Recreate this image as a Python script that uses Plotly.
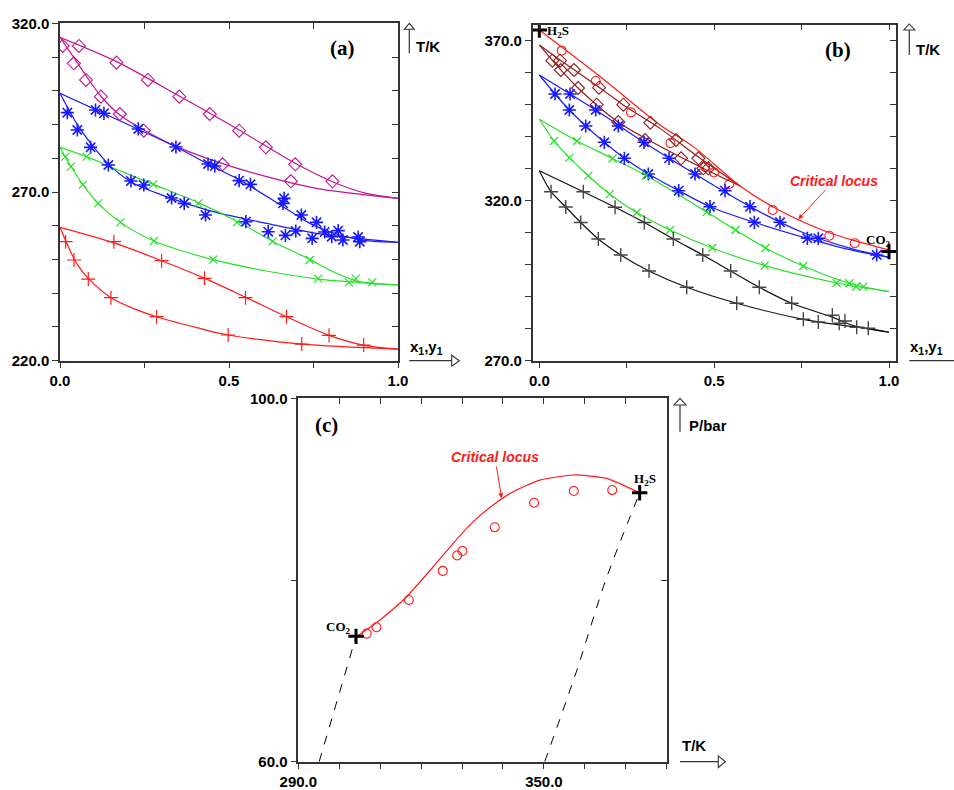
import plotly.graph_objects as go

W, H = 954, 790

# ---------------- Panel (a): T/K vs x1,y1 ----------------
a_mag_up_x = [0.0, 0.1675, 0.3527, 0.530, 0.6956, 0.806, 0.906, 1.0]
a_mag_up_T = [315.85, 308.64, 298.46, 288.38, 278.5, 273.06, 269.6, 268.12]
a_mag_lo_x = [0.0, 0.039, 0.079, 0.118, 0.177, 0.248, 0.345, 0.463, 0.611, 0.759, 1.0]
a_mag_lo_T = [315.85, 310.1, 304.2, 298.75, 292.8, 288.38, 283.44, 279.0, 274.55, 271.09, 268.12]
a_mag_pu_x = [0.056, 0.167, 0.260, 0.353, 0.443, 0.530, 0.609, 0.696, 0.806]
a_mag_pu_T = [313.28, 308.34, 303.2, 298.26, 293.12, 288.18, 283.24, 278.2, 273.16]
a_mag_pl_x = [0.008, 0.041, 0.077, 0.121, 0.177, 0.248, 0.481, 0.683]
a_mag_pl_T = [313.28, 308.14, 303.2, 298.26, 293.12, 288.18, 278.2, 273.16]

a_blu_up_x = [0.0, 0.108, 0.236, 0.345, 0.443, 0.532, 0.660, 0.739, 0.828, 0.906, 1.0]
a_blu_up_T = [299.25, 294.31, 288.38, 283.24, 278.0, 273.56, 265.65, 260.71, 257.25, 255.57, 255.08]
a_blu_lo_x = [0.0, 0.049, 0.0985, 0.148, 0.217, 0.315, 0.453, 0.611, 0.759, 1.0]
a_blu_lo_T = [299.25, 290.36, 283.44, 277.81, 272.57, 268.62, 264.17, 260.71, 257.75, 255.08]
a_blu_pu_x = [0.105, 0.130, 0.2315, 0.343, 0.438, 0.458, 0.530, 0.5635, 0.660, 0.663, 0.714, 0.759, 0.823, 0.882]
a_blu_pu_T = [294.31, 293.32, 288.68, 283.34, 278.3, 277.7, 273.36, 272.27, 266.64, 268.12, 263.18, 261.0, 258.54, 256.66]
a_blu_pl_x = [0.0217, 0.0512, 0.0906, 0.143, 0.210, 0.248, 0.330, 0.3675, 0.4305, 0.550, 0.616, 0.667,
              0.6975, 0.746, 0.783, 0.804, 0.837, 0.887]
a_blu_pl_T = [293.52, 288.38, 283.24, 278.0, 273.26, 272.07, 268.22, 266.64, 263.18, 261.2, 258.24, 257.15,
              258.44, 256.26, 258.14, 256.76, 255.77, 255.28]

a_grn_up_x = [0.0, 0.0788, 0.148, 0.276, 0.414, 0.532, 0.631, 0.739, 0.808, 0.887, 1.0]
a_grn_up_T = [283.24, 280.47, 277.5, 272.27, 266.64, 260.9, 255.28, 250.04, 246.38, 243.42, 242.43]
a_grn_lo_x = [0.0, 0.0296, 0.069, 0.113, 0.179, 0.278, 0.453, 0.611, 0.764, 1.0]
a_grn_lo_T = [283.24, 278.0, 272.07, 266.64, 261.0, 255.47, 249.94, 246.58, 244.2, 242.43]
a_grn_pu_x = [0.0788, 0.276, 0.409, 0.524, 0.629, 0.739, 0.875, 0.924]
a_grn_pu_T = [280.47, 272.27, 266.64, 261.0, 255.38, 249.84, 244.31, 243.22]
a_grn_pl_x = [0.0158, 0.0325, 0.068, 0.113, 0.179, 0.278, 0.453, 0.764, 0.855]
a_grn_pl_T = [280.47, 277.5, 272.17, 266.64, 261.0, 255.47, 249.94, 244.31, 243.22]

a_red_up_x = [0.0, 0.1576, 0.3005, 0.4286, 0.5498, 0.670, 0.796, 0.8966, 1.0]
a_red_up_T = [259.53, 254.98, 249.64, 244.4, 238.77, 233.04, 227.51, 224.64, 223.46]
a_red_lo_x = [0.0, 0.0246, 0.049, 0.0837, 0.1507, 0.2167, 0.2857, 0.4138, 0.4975, 0.7153, 1.0]
a_red_lo_T = [259.53, 253.8, 248.85, 244.4, 238.67, 235.5, 233.04, 229.58, 227.61, 224.94, 223.46]
a_red_pu_x = [0.1596, 0.3005, 0.4276, 0.5488, 0.670, 0.796, 0.8985]
a_red_pu_T = [255.28, 249.64, 244.4, 238.67, 233.04, 227.51, 224.64]
a_red_pl_x = [0.0167, 0.0414, 0.0837, 0.1507, 0.2857, 0.4975, 0.7153]
a_red_pl_T = [255.28, 249.84, 244.2, 238.67, 233.04, 227.61, 224.94]

# ---------------- Panel (b) ----------------
b_crit_x = [0.0, 0.1736, 0.345, 0.4404, 0.574, 0.6883, 0.8293, 0.9019, 1.0]
b_crit_T = [373.34, 358.8, 343.66, 336.9, 324.6, 316.88, 310.0, 307.5, 304.6]
b_crit_px = [0.064, 0.1613, 0.2622, 0.375, 0.474, 0.4996, 0.5433, 0.6674, 0.8293, 0.9019]
b_crit_pT = [366.88, 357.4, 347.6, 338.0, 330.53, 328.81, 325.22, 317.1, 309.06, 306.69]

b_brn_up_x = [0.0, 0.0592, 0.1736, 0.239, 0.345, 0.4538, 0.574]
b_brn_up_T = [368.66, 363.97, 355.22, 350.0, 342.6, 333.75, 324.6]
b_brn_lo_x = [0.0, 0.0363, 0.1107, 0.225, 0.345, 0.468, 0.574]
b_brn_lo_T = [368.66, 363.97, 355.22, 344.6, 337.0, 330.13, 324.6]
b_brn_pu_x = [0.0592, 0.0992, 0.1707, 0.2402, 0.3174, 0.3909, 0.4547, 0.4833]
b_brn_pu_T = [363.75, 360.84, 355.31, 350.0, 344.38, 338.97, 333.25, 330.13]
b_brn_pl_x = [0.0372, 0.0612, 0.1107, 0.1641, 0.2259, 0.3023, 0.4052, 0.469]
b_brn_pl_T = [363.75, 360.84, 355.22, 350.0, 344.59, 338.97, 333.25, 330.13]

b_blu_up_x = [0.0, 0.16, 0.30, 0.45, 0.60, 0.75, 0.9, 1.0]
b_blu_up_T = [359.28, 348.4, 338.2, 328.0, 318.3, 310.2, 304.8, 302.3]
b_blu_lo_x = [0.0, 0.045, 0.0858, 0.1327, 0.1859, 0.2431, 0.3117, 0.3986, 0.4881, 0.6148, 0.7664, 0.9, 1.0]
b_blu_lo_T = [359.28, 353.34, 348.34, 343.34, 338.25, 333.25, 328.34, 323.13, 318.13, 313.25, 308.25, 304.4, 302.3]
b_blu_pu_x = [0.0878, 0.1613, 0.2259, 0.2994, 0.3709, 0.4453, 0.531, 0.6025, 0.6883, 0.7978, 0.9648]
b_blu_pu_T = [353.34, 348.34, 343.34, 338.25, 333.25, 328.34, 323.13, 318.13, 313.25, 308.25, 303.03]
b_blu_pl_x = [0.0449, 0.0858, 0.1327, 0.1859, 0.2431, 0.3117, 0.3986, 0.4881, 0.6148, 0.7664]
b_blu_pl_T = [353.34, 348.34, 343.34, 338.25, 333.25, 328.34, 323.13, 318.13, 313.25, 308.25]

b_grn_up_x = [0.0, 0.1078, 0.2093, 0.3051, 0.4787, 0.5611, 0.6468, 0.7549, 0.8865, 1.0]
b_grn_up_T = [345.44, 338.66, 333.19, 327.875, 316.47, 310.84, 305.22, 299.59, 294.19, 291.56]
b_grn_lo_x = [0.0, 0.042, 0.0858, 0.1401, 0.2013, 0.2785, 0.3737, 0.4944, 0.6446, 0.8504, 1.0]
b_grn_lo_T = [345.44, 338.66, 333.44, 327.78, 322.03, 316.31, 310.84, 305.22, 299.69, 294.28, 291.56]
b_grn_pu_x = [0.1078, 0.2093, 0.3051, 0.4787, 0.5611, 0.6468, 0.7549, 0.8865, 0.9265]
b_grn_pu_T = [338.66, 333.19, 327.875, 316.47, 310.84, 305.22, 299.59, 294.19, 293.13]
b_grn_pl_x = [0.042, 0.0858, 0.1401, 0.2013, 0.2785, 0.3737, 0.4944, 0.6446, 0.8504, 0.9065]
b_grn_pl_T = [338.66, 333.44, 327.78, 322.03, 316.31, 310.84, 305.22, 299.69, 294.28, 293.19]

b_blk_up_x = [0.0, 0.1258, 0.2165, 0.3003, 0.3832, 0.4673, 0.5473, 0.6291, 0.7218, 0.838, 0.90, 1.0]
b_blk_up_T = [329.38, 322.81, 317.94, 313.19, 308.03, 303.03, 298.03, 292.94, 287.94, 283.6, 280.9, 278.9]
b_blk_lo_x = [0.0, 0.0335, 0.0755, 0.1184, 0.1687, 0.2328, 0.3137, 0.4215, 0.5645, 0.7549, 0.8579, 0.9408, 1.0]
b_blk_lo_T = [329.38, 322.81, 318.03, 313.19, 308.03, 303.03, 298.03, 292.94, 287.94, 282.94, 281.2, 280.0, 278.9]
b_blk_pu_x = [0.1258, 0.2165, 0.3003, 0.3832, 0.4673, 0.5473, 0.6291, 0.7218, 0.8379, 0.874]
b_blk_pu_T = [322.81, 317.94, 313.19, 308.03, 303.03, 298.03, 292.94, 287.94, 284.19, 282.4]
b_blk_pl_x = [0.0335, 0.0755, 0.1184, 0.1687, 0.2328, 0.3137, 0.4215, 0.5645, 0.7549, 0.7978, 0.8579, 0.9076, 0.9408]
b_blk_pl_T = [322.81, 318.03, 313.19, 308.03, 303.03, 298.03, 292.94, 287.94, 282.94, 282.09, 281.69, 280.44, 280.13]

b_pure_x = [0.0, 1.0]           # H2S, CO2 critical temperatures
b_pure_T = [373.34, 304.1]

# ---------------- Panel (c): P/bar vs T/K ----------------
c_crit_T = [304.1, 309.95, 316.47, 322.97, 327.85, 332.73, 337.62, 342.5, 349.0, 357.2, 365.3, 373.4]
c_crit_P = [73.7, 75.6, 78.16, 81.46, 84.04, 86.42, 88.26, 89.72, 91.0, 91.56, 91.19, 89.6]
c_exp_T = [306.7, 309.1, 317.0, 325.3, 328.8, 330.1, 338.0, 347.6, 357.3, 366.7]
c_exp_P = [74.1, 74.8, 77.8, 81.0, 82.7, 83.2, 85.8, 88.5, 89.8, 89.9]
c_co2_T = [295.1, 304.1]
c_co2_P = [60.0, 73.8]
c_h2s_T = [350.2, 358.0, 365.1, 373.4]
c_h2s_P = [60.0, 70.0, 80.0, 89.6]
c_pure_T = [304.1, 373.4]
c_pure_P = [73.8, 89.6]

MAG = '#c2168e'
BLUE = '#1a1aff'
GREEN = '#28e028'
RED = '#ff1a1a'
BROWN = '#921c1c'
BLK = '#111111'
FRAME = '#333333'

fig = go.Figure()


def add_line(xs, ys, color, xa, ya, dash='solid', width=1.2, shape='spline', smooth=0.8):
    fig.add_trace(go.Scatter(x=xs, y=ys, mode='lines', xaxis=xa, yaxis=ya,
                             line=dict(color=color, width=width, shape=shape, smoothing=smooth, dash=dash),
                             showlegend=False, hoverinfo='skip'))


def add_pts(xs, ys, symbol, color, xa, ya, size=9, lw=1.2):
    fig.add_trace(go.Scatter(x=xs, y=ys, mode='markers', xaxis=xa, yaxis=ya,
                             marker=dict(symbol=symbol, size=size, color=color,
                                         line=dict(color=color, width=lw)),
                             showlegend=False, hoverinfo='skip'))


# panel (a)
for xs, ys, c in [(a_mag_up_x, a_mag_up_T, MAG), (a_mag_lo_x, a_mag_lo_T, MAG),
                  (a_blu_up_x, a_blu_up_T, BLUE), (a_blu_lo_x, a_blu_lo_T, BLUE),
                  (a_grn_up_x, a_grn_up_T, GREEN), (a_grn_lo_x, a_grn_lo_T, GREEN),
                  (a_red_up_x, a_red_up_T, RED), (a_red_lo_x, a_red_lo_T, RED)]:
    add_line(xs, ys, c, 'x', 'y')
add_pts(a_mag_pu_x, a_mag_pu_T, 'diamond-open', MAG, 'x', 'y', 10, 1.1)
add_pts(a_mag_pl_x, a_mag_pl_T, 'diamond-open', MAG, 'x', 'y', 10, 1.1)
add_pts(a_blu_pu_x, a_blu_pu_T, 'asterisk', BLUE, 'x', 'y', 11, 1.6)
add_pts(a_blu_pl_x, a_blu_pl_T, 'asterisk', BLUE, 'x', 'y', 11, 1.6)
add_pts(a_grn_pu_x, a_grn_pu_T, 'x-thin', GREEN, 'x', 'y', 8, 1.2)
add_pts(a_grn_pl_x, a_grn_pl_T, 'x-thin', GREEN, 'x', 'y', 8, 1.2)
add_pts(a_red_pu_x, a_red_pu_T, 'cross-thin', RED, 'x', 'y', 10, 1.2)
add_pts(a_red_pl_x, a_red_pl_T, 'cross-thin', RED, 'x', 'y', 10, 1.2)

# panel (b)
for xs, ys, c in [(b_brn_up_x, b_brn_up_T, BROWN), (b_brn_lo_x, b_brn_lo_T, BROWN),
                  (b_blu_up_x, b_blu_up_T, BLUE), (b_blu_lo_x, b_blu_lo_T, BLUE),
                  (b_grn_up_x, b_grn_up_T, GREEN), (b_grn_lo_x, b_grn_lo_T, GREEN),
                  (b_blk_up_x, b_blk_up_T, BLK), (b_blk_lo_x, b_blk_lo_T, BLK),
                  (b_crit_x, b_crit_T, RED)]:
    add_line(xs, ys, c, 'x2', 'y2')
add_pts(b_crit_px, b_crit_pT, 'circle-open', RED, 'x2', 'y2', 9, 1.1)
add_pts(b_brn_pu_x, b_brn_pu_T, 'diamond-open', BROWN, 'x2', 'y2', 10, 1.1)
add_pts(b_brn_pl_x, b_brn_pl_T, 'diamond-open', BROWN, 'x2', 'y2', 10, 1.1)
add_pts(b_blu_pu_x, b_blu_pu_T, 'asterisk', BLUE, 'x2', 'y2', 11, 1.6)
add_pts(b_blu_pl_x, b_blu_pl_T, 'asterisk', BLUE, 'x2', 'y2', 11, 1.6)
add_pts(b_grn_pu_x, b_grn_pu_T, 'x-thin', GREEN, 'x2', 'y2', 8, 1.2)
add_pts(b_grn_pl_x, b_grn_pl_T, 'x-thin', GREEN, 'x2', 'y2', 8, 1.2)
add_pts(b_blk_pu_x, b_blk_pu_T, 'cross-thin', '#444444', 'x2', 'y2', 10, 1.4)
add_pts(b_blk_pl_x, b_blk_pl_T, 'cross-thin', '#444444', 'x2', 'y2', 10, 1.4)
add_pts(b_pure_x, b_pure_T, 'cross-thin', 'black', 'x2', 'y2', 11, 3)

# panel (c)
add_line(c_co2_T, c_co2_P, 'black', 'x3', 'y3', dash='dash', width=1, shape='linear')
add_line(c_h2s_T, c_h2s_P, 'black', 'x3', 'y3', dash='dash', width=1)
add_line(c_crit_T, c_crit_P, RED, 'x3', 'y3', smooth=0.5)
add_pts(c_exp_T, c_exp_P, 'circle-open', RED, 'x3', 'y3', 9, 1.1)
add_pts(c_pure_T, c_pure_P, 'cross-thin', 'black', 'x3', 'y3', 11, 3)

# dummy traces to activate the mirrored (top / right) overlay axes
for xa, ya in [('x4', 'y4'), ('x5', 'y5'), ('x6', 'y6')]:
    fig.add_trace(go.Scatter(x=[None], y=[None], xaxis=xa, yaxis=ya, mode='markers',
                             showlegend=False, hoverinfo='skip'))

TICKFONT = dict(family='Liberation Sans, Arial, sans-serif', size=15, color='black', weight='bold')
BASE = dict(showgrid=False, zeroline=False, showline=True, linecolor=FRAME, linewidth=1.5,
            ticklen=6, tickwidth=1.2, tickcolor=FRAME, tickfont=TICKFONT, fixedrange=True,
            automargin=False)


def px(x):
    return x / W


def py(y):
    return 1 - y / H


def labels(vals, shown, fmt='{:.1f}'):
    return [fmt.format(v) if v in shown else '' for v in vals]


a_xt = [0.0, 0.25, 0.5, 0.75, 1.0]
a_yt = list(range(220, 321, 10))
b_yt = list(range(270, 371, 10))
c_xt = list(range(290, 381, 10))
c_yt = [60, 80, 100]

panels = [
    ('xaxis', 'yaxis', 'xaxis4', 'yaxis4', 'x', 'y', [px(60), px(398)], [py(360.7), py(23.3)],
     [0, 1], [220, 320], a_xt, [0.0, 0.5, 1.0], a_yt, [220, 270, 320]),
    ('xaxis2', 'yaxis2', 'xaxis5', 'yaxis5', 'x2', 'y2', [px(532.7), px(896)], [py(360.7), py(24.7)],
     [-0.019, 1.02], [270, 375], a_xt, [0.0, 0.5, 1.0], b_yt, [270, 320, 370]),
    ('xaxis3', 'yaxis3', 'xaxis6', 'yaxis6', 'x3', 'y3', [px(298.3), px(666.7)], [py(761.7), py(398.3)],
     [290, 380], [60, 100], c_xt, [290, 350], c_yt, [60, 100]),
]

lay = {}
for (mx, my, ox, oy, xr_, yr_, xd, yd, xrng, yrng, xt, xs_, yt, ys_) in panels:
    lay[mx] = dict(BASE, domain=xd, range=xrng, anchor=yr_, ticks='outside',
                   tickvals=xt, ticktext=labels(xt, xs_))
    lay[my] = dict(BASE, domain=yd, range=yrng, anchor=xr_, ticks='outside',
                   tickvals=yt, ticktext=labels(yt, ys_))
    lay[ox] = dict(BASE, overlaying=xr_, side='top', anchor=yr_, range=xrng, ticks='inside',
                   tickvals=xt, showticklabels=False)
    lay[oy] = dict(BASE, overlaying=yr_, side='right', anchor=xr_, range=yrng, ticks='inside',
                   tickvals=yt, showticklabels=False)

fig.update_layout(template='none', **lay)

SANS = 'Liberation Sans, Arial, sans-serif'
SERIF = 'Liberation Serif, Times New Roman, serif'
ann = []


def text(x, y, s, size=15, family=SANS, color='black'):
    ann.append(dict(x=px(x), y=py(y), xref='paper', yref='paper', text=s, showarrow=False,
                    xanchor='center', yanchor='middle',
                    font=dict(family=family, size=size, color=color)))


text(342.5, 48.3, '<b>(a)</b>', 21, SERIF)
text(837.5, 50, '<b>(b)</b>', 21, SERIF)
text(326.7, 425, '<b>(c)</b>', 21, SERIF)
text(428, 47, '<b>T/K</b>', 15)
text(928, 49, '<b>T/K</b>', 15)
text(426, 347.5, '<b>x<sub>1</sub>,y<sub>1</sub></b>', 15)
text(926, 347.5, '<b>x<sub>1</sub>,y<sub>1</sub></b>', 15)
text(707.5, 425, '<b>P/bar</b>', 15)
text(694, 745, '<b>T/K</b>', 15)
text(558, 31.7, '<b>H<sub>2</sub>S</b>', 13, SERIF)
text(878.7, 240.8, '<b>CO<sub>2</sub></b>', 13, SERIF)
text(338.3, 627.3, '<b>CO<sub>2</sub></b>', 13, SERIF)
text(645, 479.3, '<b>H<sub>2</sub>S</b>', 13, SERIF)

ann.append(dict(x=0.7406, y=314.2, xref='x2', yref='y2', ax=35.7, ay=-38.5,
                text='<b><i>Critical locus</i></b>', showarrow=True, arrowhead=2, arrowsize=1,
                arrowwidth=1, arrowcolor=RED, font=dict(family=SANS, size=14, color=RED)))
ann.append(dict(x=339.67, y=88.99, xref='x3', yref='y3', ax=-6.7, ay=-41.3,
                text='<b><i>Critical locus</i></b>', showarrow=True, arrowhead=2, arrowsize=1,
                arrowwidth=1, arrowcolor=RED, font=dict(family=SANS, size=14, color=RED)))

shapes = []


def seg(x0, y0, x1, y1):
    shapes.append(dict(type='line', xref='paper', yref='paper', x0=px(x0), y0=py(y0), x1=px(x1), y1=py(y1),
                       line=dict(color=FRAME, width=1.2)))


def tri(pts):
    path = 'M ' + ' L '.join('{:.5f},{:.5f}'.format(px(a), py(b)) for a, b in pts) + ' Z'
    shapes.append(dict(type='path', xref='paper', yref='paper', path=path, fillcolor='white',
                       line=dict(color=FRAME, width=1.1)))


# up arrows
seg(409.3, 53.3, 409.3, 29.3); tri([(404.3, 29.3), (414.3, 29.3), (409.3, 23.3)])
seg(909.3, 55, 909.3, 30); tri([(903.8, 30), (914.8, 30), (909.3, 24)])
seg(680, 431.7, 680, 405); tri([(674, 405), (686, 405), (680, 398.3)])
# right arrows
seg(409.3, 360.7, 451.7, 360.7); tri([(451.7, 355.2), (451.7, 366.2), (459.3, 360.7)])
seg(909.3, 360.7, 954, 360.7)
seg(680, 761.7, 718.3, 761.7); tri([(718.3, 755.9), (718.3, 767.5), (725.5, 761.7)])

fig.update_layout(width=W, height=H, margin=dict(l=0, r=0, t=0, b=0, autoexpand=False),
                  paper_bgcolor='white', plot_bgcolor='white',
                  annotations=ann, shapes=shapes, showlegend=False)

fig.write_html('out.html', config={'displayModeBar': False},
               post_script="document.body.style.margin='0px';document.body.style.overflow='hidden';")
